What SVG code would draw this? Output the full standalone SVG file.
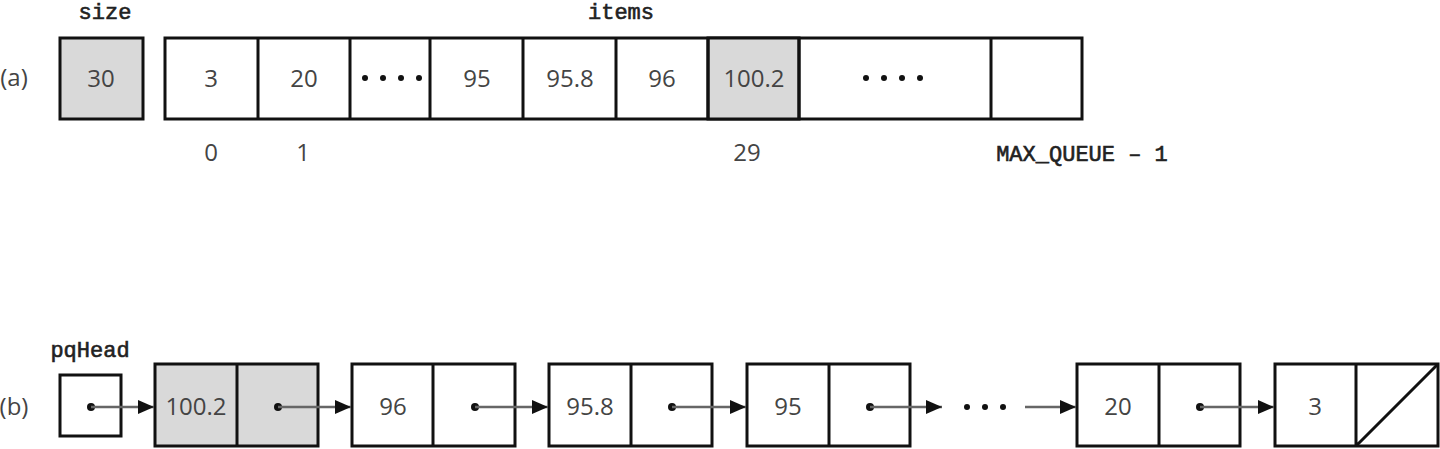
<svg xmlns="http://www.w3.org/2000/svg" width="1440" height="449" viewBox="0 0 1440 449">
<defs>
<style>
.b{fill:#fff;stroke:#111;stroke-width:3}
.g{fill:#d9d9d9;stroke:#111;stroke-width:3}
.d{stroke:#111;stroke-width:3}
.t{font-family:"Open Sans","DejaVu Sans",sans-serif;font-size:24px;fill:#444;text-anchor:middle}
.m{font-family:"Liberation Mono",monospace;font-size:22px;fill:#222;stroke:#222;stroke-width:0.6;text-anchor:middle}
.c{stroke:#666;stroke-width:2.5;fill:none;marker-end:url(#ar)}
</style>
<marker id="ar" markerWidth="16" markerHeight="14" refX="16" refY="7" orient="auto" markerUnits="userSpaceOnUse" viewBox="0 0 16 14"><path d="M0,0 L16,7 L0,14 z" fill="#111"/></marker>
</defs>
<rect width="1440" height="449" fill="#fff"/>
<text class="t" x="14" y="86">(a)</text>
<g id="size"><text class="m" x="105" y="19">size</text><rect class="g" x="60" y="38" width="83" height="81"/><text class="t" x="101" y="87">30</text></g>
<g id="items">
<text class="m" x="621" y="19">items</text>
<rect class="b" x="165" y="38" width="917" height="81"/>
<rect class="g" x="708" y="38" width="91" height="81"/>
<path class="d" d="M258,38V119M350,38V119M430,38V119M523,38V119M616,38V119M708,38V119M799,38V119M991,38V119"/>
<text class="t" x="211" y="87">3</text><text class="t" x="304" y="87">20</text>
<g fill="#111"><circle cx="365" cy="78" r="3"/><circle cx="383" cy="78" r="3"/><circle cx="401" cy="78" r="3"/><circle cx="419" cy="78" r="3"/>
<circle cx="866" cy="78" r="3"/><circle cx="884" cy="78" r="3"/><circle cx="902" cy="78" r="3"/><circle cx="920" cy="78" r="3"/>
<circle cx="967" cy="407" r="3"/><circle cx="985" cy="407" r="3"/><circle cx="1003" cy="407" r="3"/></g>
<text class="t" x="477" y="87">95</text><text class="t" x="570" y="87">95.8</text><text class="t" x="662" y="87">96</text><text class="t" x="754" y="87">100.2</text>
<text class="t" x="211" y="161">0</text><text class="t" x="303" y="161">1</text><text class="t" x="747" y="161">29</text>
<text class="m" x="1082" y="161">MAX_QUEUE – 1</text>
</g>
<text class="t" x="14" y="415">(b)</text>
<g id="pqHead"><text class="m" x="90" y="357">pqHead</text><rect class="b" x="60" y="375" width="61" height="61"/><circle cx="91" cy="407" r="4" fill="#111"/></g>
<g id="n1"><rect class="g" x="155" y="364" width="163" height="82"/><path class="d" d="M237,364V446"/><text class="t" x="196" y="415">100.2</text><circle cx="278" cy="407" r="4" fill="#111"/></g>
<g id="n2"><rect class="b" x="352" y="364" width="163" height="82"/><path class="d" d="M433,364V446"/><text class="t" x="393" y="415">96</text><circle cx="475" cy="407" r="4" fill="#111"/></g>
<g id="n3"><rect class="b" x="549" y="364" width="163" height="82"/><path class="d" d="M631,364V446"/><text class="t" x="590" y="415">95.8</text><circle cx="672" cy="407" r="4" fill="#111"/></g>
<g id="n4"><rect class="b" x="747" y="364" width="163" height="82"/><path class="d" d="M829,364V446"/><text class="t" x="788" y="415">95</text><circle cx="870" cy="407" r="4" fill="#111"/></g>
<g id="n5"><rect class="b" x="1077" y="364" width="163" height="82"/><path class="d" d="M1159,364V446"/><text class="t" x="1118" y="415">20</text><circle cx="1200" cy="407" r="4" fill="#111"/></g>
<g id="n6"><rect class="b" x="1275" y="364" width="163" height="82"/><path class="d" d="M1356,364V446M1356,446L1438,364"/><text class="t" x="1315" y="415">3</text></g>
<g id="connectors">
<path class="c" d="M91,407H154"/>
<path class="c" d="M278,407H351"/>
<path class="c" d="M475,407H548"/>
<path class="c" d="M672,407H746"/>
<path class="c" d="M870,407H942"/>
<path class="c" d="M1025,407H1076"/>
<path class="c" d="M1200,407H1274"/>
</g>
</svg>
